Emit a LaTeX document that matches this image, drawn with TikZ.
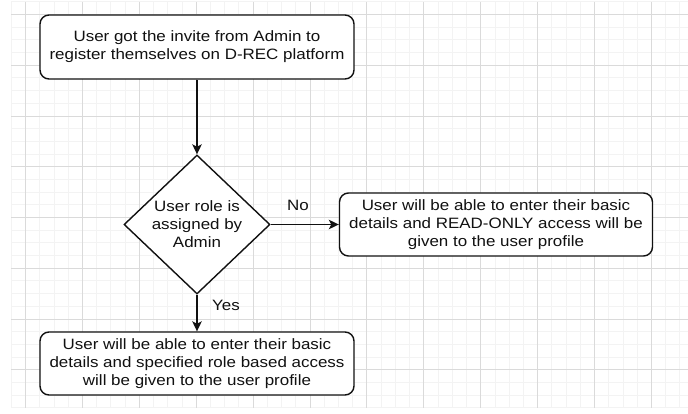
\documentclass[tikz,border=0pt]{standalone}
\usepackage{fontspec}
\setmainfont[FakeStretch=1.13]{Liberation Sans}
\usetikzlibrary{shapes.geometric,arrows.meta}
\definecolor{gminor}{HTML}{F3F3F3}
\definecolor{gmajor}{HTML}{DADADA}
\definecolor{ink}{HTML}{111111}
\tikzset{
  minorline/.style={draw=gminor, line width=0.9pt},
  majorline/.style={draw=gmajor, line width=0.9pt},
  procbox/.style={draw=ink, line width=1.4pt, rounded corners=9pt, fill=white,
    align=center, inner sep=0pt, text=ink, font=\fontsize{15}{18}\selectfont},
  decbox/.style={draw=ink, line width=1.4pt, diamond, fill=white, inner sep=0pt},
  conn/.style={draw=ink, line width=1.4pt, -{Stealth[length=10pt,width=9.5pt,inset=2.5pt]}},
  lbl/.style={text=ink, font=\fontsize{15}{18}\selectfont, inner sep=0pt}
}
\begin{document}
\begin{tikzpicture}[x=1pt,y=-1pt]
\useasboundingbox (0,0) rectangle (688,414);
\fill[white] (0,0) rectangle (688,414);
% grid
\foreach \i in {0,...,47} \draw[minorline] ({11.3+14.225*\i},1.8) -- ({11.3+14.225*\i},408);
\foreach \j in {0,...,32} \draw[minorline] (11.3,{1.8+12.6875*\j}) -- (688,{1.8+12.6875*\j});
\foreach \i in {0,...,11} \draw[majorline] ({25.5+56.9*\i},1.8) -- ({25.5+56.9*\i},408);
\foreach \j in {0,...,7} \draw[majorline] (11.3,{14.5+50.75*\j}) -- (688,{14.5+50.75*\j});
% nodes
\node[procbox, minimum width=314pt, minimum height=64pt] (invite) at (197,47)
  {User got the invite from Admin to\\register themselves on D-REC platform};
\node[decbox, minimum width=146pt, minimum height=139pt,
  label={[lbl, align=center]center:{User role is\\assigned by\\Admin}}] (role) at (197,224.5) {};
\node[procbox, minimum width=313pt, minimum height=63pt] (readonly) at (496,224.5)
  {User will be able to enter their basic\\details and READ-ONLY access will be\\given to the user profile};
\node[procbox, minimum width=314pt, minimum height=63pt] (rolebased) at (197,363.5)
  {User will be able to enter their basic\\details and specified role based access\\will be given to the user profile};
% connectors
\draw[conn] (invite.south) -- (role.north);
\draw[conn] (role.east) -- (readonly.west);
\draw[conn] (role.south) -- (rolebased.north);
\node[lbl] (nolbl) at (298,205) {No};
\node[lbl] (yeslbl) at (226,305) {Yes};
\end{tikzpicture}
\end{document}
